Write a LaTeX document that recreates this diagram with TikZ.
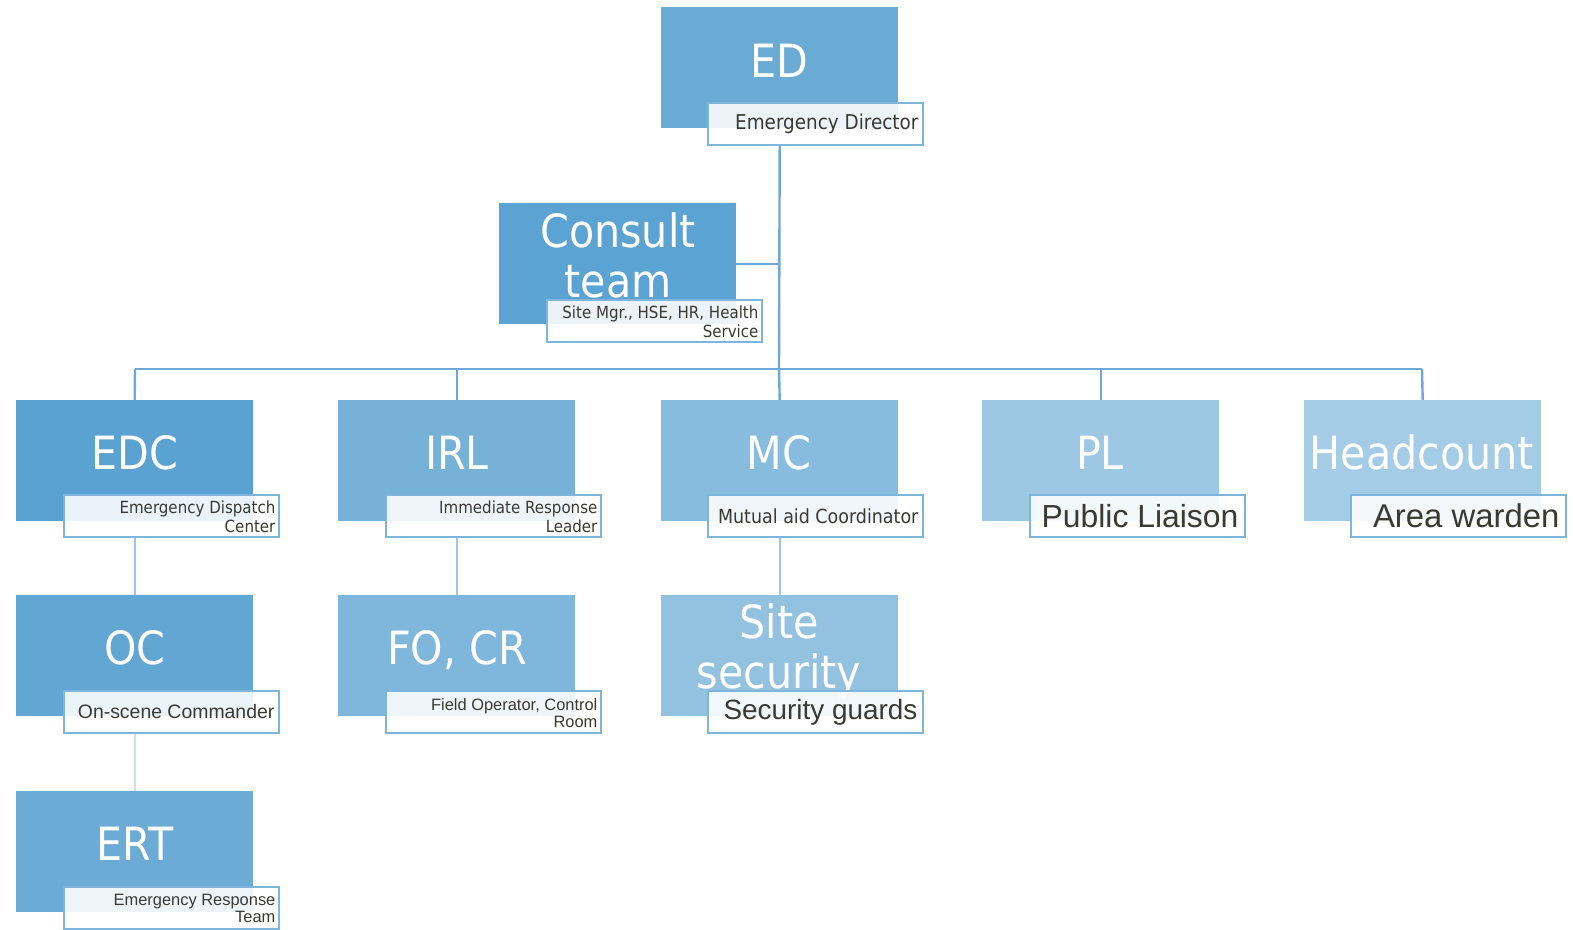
\documentclass[tikz,border=0pt]{standalone}
\usepackage{fontspec}
\newfontfamily\tah{DejaVu Sans Condensed}
\newfontfamily\ari{Liberation Sans}
\definecolor{cED}{HTML}{6AABD6}
\definecolor{cCT}{HTML}{5BA3D3}
\definecolor{cEDC}{HTML}{5AA2D2}
\definecolor{cIRL}{HTML}{76B1D8}
\definecolor{cMC}{HTML}{88BCDF}
\definecolor{cPL}{HTML}{9DC8E4}
\definecolor{cHC}{HTML}{A5CCE6}
\definecolor{cOC}{HTML}{62A6D4}
\definecolor{cFO}{HTML}{7FB6DB}
\definecolor{cSS}{HTML}{93C2E1}
\definecolor{cERT}{HTML}{6BABD6}
\definecolor{lineblue}{HTML}{6FA8D8}
\definecolor{lineA}{HTML}{9FC6E6}
\definecolor{lineB}{HTML}{CFE1F0}
\definecolor{lblborder}{HTML}{7DB5DD}
\definecolor{lbltext}{HTML}{3A3A32}
\tikzset{
  rolebox/.style={rectangle, anchor=north west, minimum width=237bp, minimum height=121bp, inner sep=0pt, fill=#1},
  title/.style={anchor=base, text=white, inner sep=0pt, font=\tah\fontsize{46}{50}\selectfont, align=center},
  lbl/.style={rectangle, anchor=north west, minimum width=215bp, minimum height=42bp, inner sep=0pt,
    draw=lblborder, line width=1.6bp, fill=white, fill opacity=0.88, text opacity=1, text=lbltext},
  lbltxt/.style={anchor=east, inner sep=0pt, text=lbltext, align=right},
  conn/.style={draw=lineblue, line width=2.4bp},
  connA/.style={draw=lineA, line width=2.2bp},
  connB/.style={draw=lineB, line width=2.2bp}
}
\begin{document}
\begin{tikzpicture}[x=1bp,y=-1bp]
\useasboundingbox (0,0) rectangle (1573,929);
\coordinate (busL) at (135,369);
\coordinate (busR) at (1422,369);
\coordinate (busM) at (779,369);
\coordinate (ctj) at (779,264);

% boxes
\node[rolebox=cED] (ed) at (661,7) {};
\node[rolebox=cCT] (ct) at (499,203) {};
\node[rolebox=cEDC] (edc) at (16,400) {};
\node[rolebox=cIRL] (irl) at (338,400) {};
\node[rolebox=cMC] (mc) at (661,400) {};
\node[rolebox=cPL] (pl) at (982,400) {};
\node[rolebox=cHC] (hc) at (1304,400) {};
\node[rolebox=cOC] (oc) at (16,595) {};
\node[rolebox=cFO] (fo) at (338,595) {};
\node[rolebox=cSS] (ss) at (661,595) {};
\node[rolebox=cERT] (ert) at (16,791) {};

% titles
\node[title] (edT) at (779,77) {ED};
\node[title] (ctT) at (618,297) {Consult\\team};
\node[title] (edcT) at (135,469) {EDC};
\node[title] (irlT) at (457,469) {IRL};
\node[title] (mcT) at (779,469) {MC};
\node[title] (plT) at (1100,469) {PL};
\node[title] (hcT) at (1422,469) {Headcount};
\node[title] (ocT) at (135,664) {OC};
\node[title] (foT) at (457,664) {FO, CR};
\node[title] (ssT) at (779,688) {Site\\security};
\node[title] (ertT) at (135,860) {ERT};

% label boxes
\node[lbl] (edL) at (707,102) {};
\node[lbl] (ctL) at (546,299) {};
\node[lbl] (edcL) at (63,494) {};
\node[lbl] (irlL) at (385,494) {};
\node[lbl] (mcL) at (707,494) {};
\node[lbl] (plL) at (1029,494) {};
\node[lbl] (hcL) at (1350,494) {};
\node[lbl] (ocL) at (63,690) {};
\node[lbl] (foL) at (385,690) {};
\node[lbl] (ssL) at (707,690) {};
\node[lbl] (ertL) at (63,886) {};

% label texts
\node[lbltxt, font=\tah\fontsize{20.5}{22}\selectfont] (edLt) at ([xshift=-5bp]edL.east) {Emergency Director};
\node[lbltxt, font=\tah\fontsize{16.8}{19}\selectfont] (ctLt) at ([xshift=-4bp,yshift=-1bp]ctL.east) {Site Mgr., HSE, HR, Health\\Service};
\node[lbltxt, font=\tah\fontsize{16.8}{19}\selectfont] (edcLt) at ([xshift=-4bp,yshift=-1bp]edcL.east) {Emergency Dispatch\\Center};
\node[lbltxt, font=\tah\fontsize{16.8}{19}\selectfont] (irlLt) at ([xshift=-4bp,yshift=-1bp]irlL.east) {Immediate Response\\Leader};
\node[lbltxt, font=\tah\fontsize{19.5}{22}\selectfont] (mcLt) at ([xshift=-5bp]mcL.east) {Mutual aid Coordinator};
\node[lbltxt, font=\ari\fontsize{32}{34}\selectfont] (plLt) at ([xshift=-7bp]plL.east) {Public Liaison};
\node[lbltxt, font=\ari\fontsize{33}{35}\selectfont] (hcLt) at ([xshift=-7bp]hcL.east) {Area warden};
\node[lbltxt, font=\ari\fontsize{19.5}{22}\selectfont] (ocLt) at ([xshift=-5bp]ocL.east) {On-scene Commander};
\node[lbltxt, font=\ari\fontsize{16.5}{17}\selectfont] (foLt) at ([xshift=-4bp,yshift=-1bp]foL.east) {Field Operator, Control\\Room};
\node[lbltxt, font=\ari\fontsize{28}{30}\selectfont] (ssLt) at ([xshift=-6bp]ssL.east) {Security guards};
\node[lbltxt, font=\ari\fontsize{16.5}{17}\selectfont] (ertLt) at ([xshift=-4bp,yshift=-1bp]ertL.east) {Emergency Response\\Team};

% connectors
\draw[conn] (edL.south -| ed.south) -- (busM);
\draw[conn] (ct.east |- ctj) -- (ctj);
\draw[conn] (busL) -- (busR);
\draw[conn] (busL) -- (edc.north);
\draw[conn] (irl.north |- busL) -- (irl.north);
\draw[conn] (busM) -- (mc.north);
\draw[conn] (pl.north |- busL) -- (pl.north);
\draw[conn] (busR) -- (hc.north);
\draw[connA] (edcL.south -| edc.south) -- (oc.north);
\draw[connA] (irlL.south -| irl.south) -- (fo.north);
\draw[connA] (mcL.south -| mc.south) -- (ss.north);
\draw[connB] (ocL.south -| oc.south) -- (ert.north);
\end{tikzpicture}
\end{document}
